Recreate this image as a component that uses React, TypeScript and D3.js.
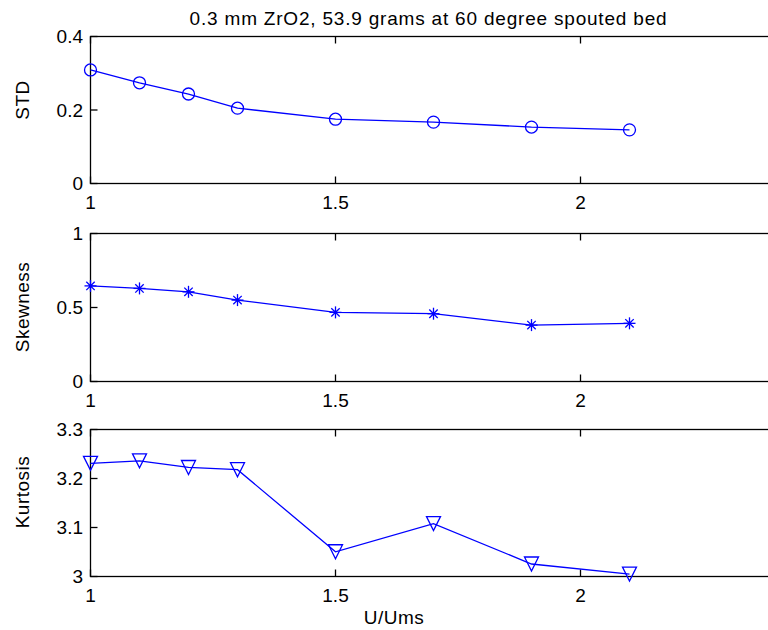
import React from "react";
import * as d3 from "d3";

const title = "0.3 mm ZrO2, 53.9 grams at 60 degree spouted bed";
const xLabel = "U/Ums";
const uValues = [1, 1.1, 1.2, 1.3, 1.5, 1.7, 1.9, 2.1];
const stdValues = [0.309, 0.274, 0.2435, 0.205, 0.175, 0.167, 0.1535, 0.146];
const skewValues = [0.646, 0.629, 0.606, 0.55, 0.467, 0.458, 0.381, 0.393];
const kurtValues = [3.231, 3.236, 3.2225, 3.218, 3.0505, 3.108, 3.0255, 3.005];
const xTicks = [1, 1.5, 2];
const stdTicks = [0, 0.2, 0.4];
const skewTicks = [0, 0.5, 1];
const kurtTicks = [3, 3.1, 3.2, 3.3];

const BLUE = "#0000ff";
const FONT = "Liberation Sans, Arial, sans-serif";
const FS = 19;

const x = d3.scaleLinear().domain([1, 2.4]).range([90.5, 776.5]);

type Panel = {
  label: string;
  values: number[];
  ticks: number[];
  domain: [number, number];
  range: [number, number];
  labelY: number;
  marker: "circle" | "star" | "tri";
};

const panels: Panel[] = [
  { label: "STD", values: stdValues, ticks: stdTicks, domain: [0, 0.4], range: [183.5, 36.5], labelY: 100, marker: "circle" },
  { label: "Skewness", values: skewValues, ticks: skewTicks, domain: [0, 1], range: [381.5, 233.5], labelY: 307, marker: "star" },
  { label: "Kurtosis", values: kurtValues, ticks: kurtTicks, domain: [3, 3.3], range: [576.5, 429.5], labelY: 492, marker: "tri" },
];

function Marker({ kind, cx, cy }: { kind: string; cx: number; cy: number }) {
  if (kind === "circle") {
    return <circle cx={cx} cy={cy} r={6} fill="none" stroke={BLUE} strokeWidth={1.3} />;
  }
  if (kind === "tri") {
    const s = 7;
    return (
      <path
        d={`M${cx - s},${cy - s}L${cx + s},${cy - s}L${cx},${cy + s}Z`}
        fill="none"
        stroke={BLUE}
        strokeWidth={1.3}
      />
    );
  }
  const a = 6;
  const b = 4.2;
  return (
    <g stroke={BLUE} strokeWidth={1.3}>
      <line x1={cx} y1={cy - a} x2={cx} y2={cy + a} />
      <line x1={cx - a} y1={cy} x2={cx + a} y2={cy} />
      <line x1={cx - b} y1={cy - b} x2={cx + b} y2={cy + b} />
      <line x1={cx - b} y1={cy + b} x2={cx + b} y2={cy - b} />
      <circle cx={cx} cy={cy} r={1.8} fill={BLUE} stroke="none" />
    </g>
  );
}

function PanelView({ p }: { p: Panel }) {
  const y = d3.scaleLinear().domain(p.domain).range(p.range);
  const line = d3
    .line<number>()
    .x((_, i) => x(uValues[i]))
    .y((v) => y(v));
  const top = p.range[1];
  const bottom = p.range[0];
  const left = x.range()[0];
  const right = x.range()[1];
  const tl = 7;
  return (
    <g>
      <rect x={left} y={top} width={right - left} height={bottom - top} fill="#fff" stroke="#000" strokeWidth={1.3} />
      {xTicks.map((t) => (
        <g key={"x" + t}>
          <line x1={x(t)} x2={x(t)} y1={bottom} y2={bottom - tl} stroke="#000" strokeWidth={1.3} />
          <line x1={x(t)} x2={x(t)} y1={top} y2={top + tl} stroke="#000" strokeWidth={1.3} />
          <text x={x(t)} y={bottom + 25} textAnchor="middle" fontSize={FS} fontFamily={FONT} fill="#000">
            {String(t)}
          </text>
        </g>
      ))}
      {p.ticks.map((t) => (
        <g key={"y" + t}>
          <line x1={left} x2={left + tl} y1={y(t)} y2={y(t)} stroke="#000" strokeWidth={1.3} />
          <line x1={right} x2={right - tl} y1={y(t)} y2={y(t)} stroke="#000" strokeWidth={1.3} />
          <text x={83} y={y(t)} dy="0.36em" textAnchor="end" fontSize={FS} fontFamily={FONT} fill="#000">
            {String(t)}
          </text>
        </g>
      ))}
      <path d={line(p.values) || ""} fill="none" stroke={BLUE} strokeWidth={1.3} />
      {p.values.map((v, i) => (
        <Marker key={i} kind={p.marker} cx={x(uValues[i])} cy={y(v)} />
      ))}
      <text
        transform={`translate(29,${p.labelY}) rotate(-90)`}
        textAnchor="middle"
        fontSize={FS}
        fontFamily={FONT}
        letterSpacing={0.5}
        fill="#000"
      >
        {p.label}
      </text>
    </g>
  );
}

export default function App() {
  return (
    <svg
      width={768}
      height={630}
      style={{ position: "absolute", left: 0, top: 0, background: "#fff" }}
    >
      <rect x={0} y={0} width={768} height={630} fill="#fff" />
      <text x={428.5} y={25} textAnchor="middle" fontSize={FS} fontFamily={FONT} letterSpacing={0.8} fill="#000">
        {title}
      </text>
      {panels.map((p) => (
        <PanelView key={p.label} p={p} />
      ))}
      <text x={394} y={624} textAnchor="middle" fontSize={FS} fontFamily={FONT} letterSpacing={0.5} fill="#000">
        {xLabel}
      </text>
    </svg>
  );
}
